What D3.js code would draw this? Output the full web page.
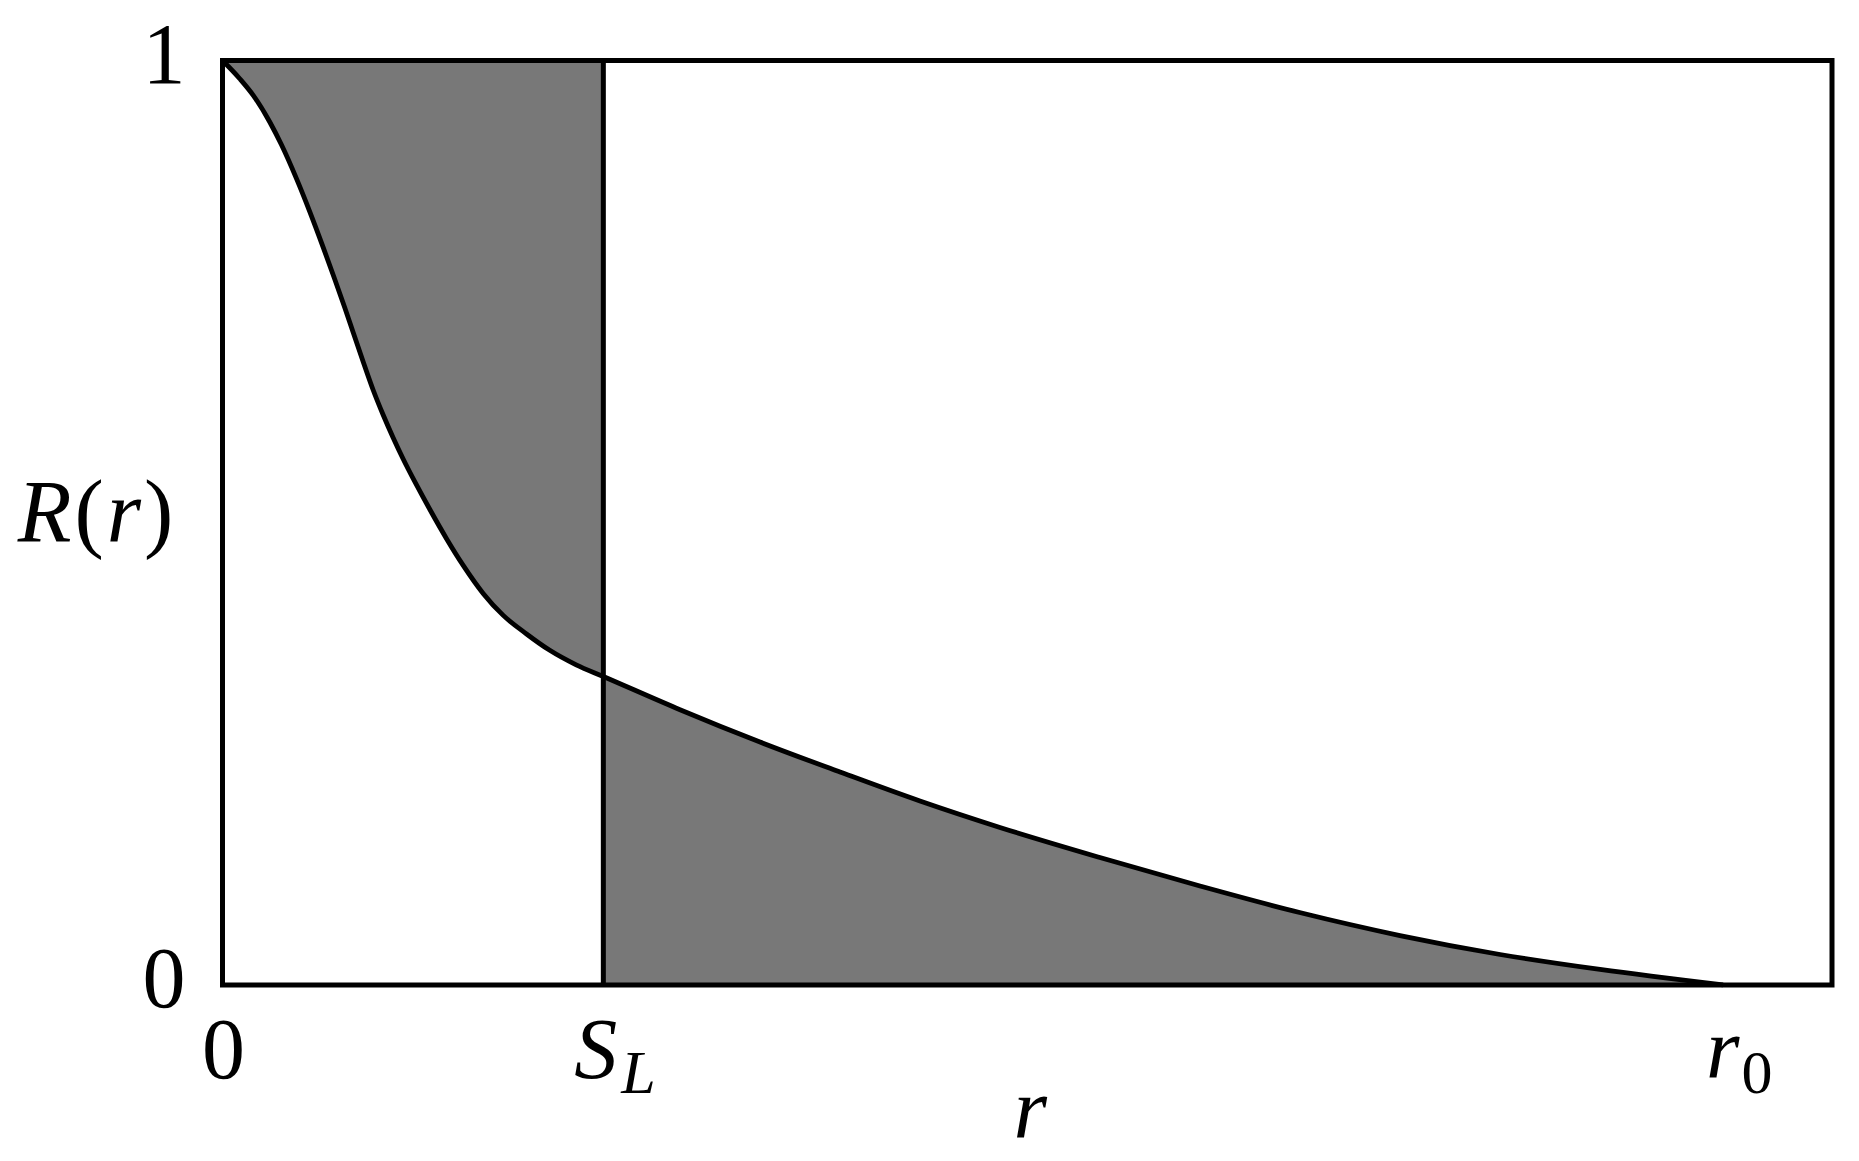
<!DOCTYPE html>
<meta charset="utf-8">
<style>
  body { margin: 0; background: #fff; }
  svg { display: block; }
  text { font-family: "Liberation Serif", "DejaVu Serif", serif; fill: #000; }
</style>
<svg></svg>
<script src="https://cdn.jsdelivr.net/npm/d3@7"></script>
<script>
// curve R(r) (r in units of r0)
var rValues = [0, 0.0115, 0.0205, 0.0315, 0.0393, 0.0493, 0.0582, 0.0671, 0.0748, 0.0815,
               0.0871, 0.0938, 0.1004, 0.1071, 0.1138, 0.1204, 0.1293, 0.1382, 0.1493,
               0.1604, 0.1737, 0.1871, 0.2026, 0.2181, 0.2357, 0.2538,
               0.3049, 0.3582, 0.4115, 0.4648, 0.5181, 0.5847, 0.6514, 0.7178, 0.7847,
               0.8514, 0.918, 1];
var RValues = [1, 0.9803, 0.9623, 0.9335, 0.9088, 0.8722, 0.8363, 0.7979, 0.7634, 0.7326,
               0.7058, 0.6739, 0.6436, 0.6165, 0.5917, 0.569, 0.5409, 0.5143, 0.4828,
               0.4539, 0.4236, 0.3998, 0.3797, 0.362, 0.3463, 0.3337,
               0.2978, 0.2628, 0.2304, 0.199, 0.1704, 0.1379, 0.1071, 0.0784, 0.0535,
               0.033, 0.0168, 0];

var SL = 0.2538,   // position of the S_L line
    r0 = 1,
    rMax = 1.0726; // right edge of the box

var yTicks = [0, 1],
    yTickLabels = ["0", "1"];

var svg = d3.select("svg")
    .attr("width", 1859)
    .attr("height", 1161);

var margin = {top: 60.5, right: 27, bottom: 176, left: 222.5},
    width = 1859 - margin.left - margin.right,
    height = 1161 - margin.top - margin.bottom;

var x = d3.scaleLinear().domain([0, rMax]).range([margin.left, margin.left + width]);
var y = d3.scaleLinear().domain([0, 1]).range([margin.top + height, margin.top]);

var data = rValues.map(function(r, i) { return {r: r, R: RValues[i]}; });

var curve = d3.curveMonotoneX;

// clip regions: left of S_L and right of S_L
var defs = svg.append("defs");
defs.append("clipPath").attr("id", "clipLeft")
  .append("rect")
    .attr("x", x(0)).attr("y", y(1))
    .attr("width", x(SL) - x(0)).attr("height", y(0) - y(1));
defs.append("clipPath").attr("id", "clipRight")
  .append("rect")
    .attr("x", x(SL)).attr("y", y(1))
    .attr("width", x(rMax) - x(SL)).attr("height", y(0) - y(1));

// shaded area above the curve, left of S_L
svg.append("path")
    .datum(data)
    .attr("clip-path", "url(#clipLeft)")
    .attr("fill", "#787878")
    .attr("d", d3.area().curve(curve)
      .x(function(d) { return x(d.r); })
      .y0(y(1))
      .y1(function(d) { return y(d.R); }));

// shaded area under the curve, right of S_L
svg.append("path")
    .datum(data)
    .attr("clip-path", "url(#clipRight)")
    .attr("fill", "#787878")
    .attr("d", d3.area().curve(curve)
      .x(function(d) { return x(d.r); })
      .y0(y(0))
      .y1(function(d) { return y(d.R); }));

// the curve
svg.append("path")
    .datum(data)
    .attr("fill", "none")
    .attr("stroke", "#000")
    .attr("stroke-width", 4.8)
    .attr("d", d3.line().curve(curve)
      .x(function(d) { return x(d.r); })
      .y(function(d) { return y(d.R); }));

// S_L line
svg.append("line")
    .attr("x1", x(SL)).attr("x2", x(SL))
    .attr("y1", y(0)).attr("y2", y(1))
    .attr("stroke", "#000")
    .attr("stroke-width", 5);

// frame
svg.append("rect")
    .attr("x", x(0)).attr("y", y(1))
    .attr("width", x(rMax) - x(0))
    .attr("height", y(0) - y(1))
    .attr("fill", "none")
    .attr("stroke", "#000")
    .attr("stroke-width", 5);

// y tick labels
svg.selectAll(".ytick")
  .data(yTicks)
  .enter().append("text")
    .attr("class", "ytick")
    .attr("x", x(0) - 37)
    .attr("y", function(d) { return y(d) + 22; })
    .attr("text-anchor", "end")
    .style("font-size", "86px")
    .text(function(d, i) { return yTickLabels[i]; });

// x tick labels
svg.append("text")
    .attr("x", x(0) + 1)
    .attr("y", y(0) + 93)
    .attr("text-anchor", "middle")
    .style("font-size", "86px")
    .text("0");

var sl = svg.append("text")
    .attr("x", x(SL) - 29)
    .attr("y", y(0) + 93)
    .style("font-size", "86px");
sl.append("tspan").style("font-style", "italic").text("S");
sl.append("tspan").style("font-style", "italic").style("font-size", "62px")
    .attr("dx", 4).attr("dy", 15).text("L");

var rz = svg.append("text")
    .attr("x", x(r0) - 17)
    .attr("y", y(0) + 93)
    .style("font-size", "86px");
rz.append("tspan").style("font-style", "italic").text("r");
rz.append("tspan").style("font-size", "62px")
    .attr("dx", 2).attr("dy", 15).text("0");

// axis titles
svg.append("text")
    .attr("x", (x(0) + x(rMax)) / 2 + 3)
    .attr("y", y(0) + 153)
    .attr("text-anchor", "middle")
    .style("font-size", "86px")
    .style("font-style", "italic")
    .text("r");

var yl = svg.append("text")
    .attr("x", 97)
    .attr("y", (y(0) + y(1)) / 2 + 18)
    .attr("text-anchor", "middle")
    .style("font-size", "88px")
    .style("letter-spacing", "3px");
yl.append("tspan").style("font-style", "italic").text("R");
yl.append("tspan").text("(");
yl.append("tspan").style("font-style", "italic").text("r");
yl.append("tspan").text(")");
</script>
